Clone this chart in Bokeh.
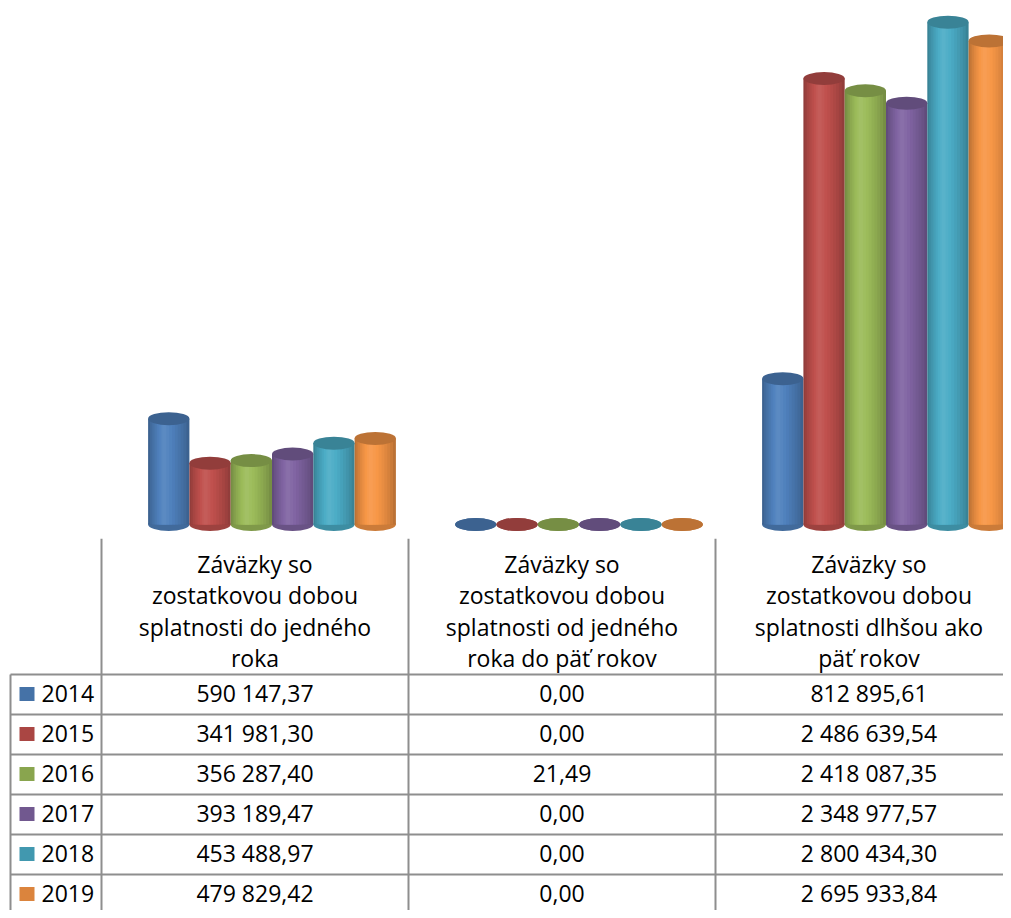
from bokeh.plotting import figure
from bokeh.models import Range1d
from bokeh.layouts import column
from bokeh.embed import file_html
from bokeh.resources import INLINE
from bokeh.core.properties import value

# ---------------- data ----------------
years = ["2014", "2015", "2016", "2017", "2018", "2019"]
categories = [
    "Záväzky so\nzostatkovou dobou\nsplatnosti do jedného\nroka",
    "Záväzky so\nzostatkovou dobou\nsplatnosti od jedného\nroka do päť rokov",
    "Záväzky so\nzostatkovou dobou\nsplatnosti dlhšou ako\npäť rokov",
]
v2014 = [590147.37, 0.00, 812895.61]
v2015 = [341981.30, 0.00, 2486639.54]
v2016 = [356287.40, 21.49, 2418087.35]
v2017 = [393189.47, 0.00, 2348977.57]
v2018 = [453488.97, 0.00, 2800434.30]
v2019 = [479829.42, 0.00, 2695933.84]
series = [v2014, v2015, v2016, v2017, v2018, v2019]

bar_colors = ["#4F81BD", "#C0504D", "#9BBB59", "#8064A2", "#4BACC6", "#F79646"]
key_colors = ["#4572A7", "#AA4643", "#89A54E", "#71588F", "#4198AF", "#DB843D"]

# ---------------- layout constants ----------------
W = 1003
H_TOP = 538
H_TAB = 372
FONT = value("Open Sans")
FS = "23px"
GRID = "#8E8E8E"
TXT_SHIFT = 9.0       # compensation of text baseline placement

COL_LEFT = 101.0      # x of first category column boundary (px)
COL_W = 307.0         # category column width (px)
BASE_PX = 524.0       # y of value 0 (px from top)
PX_PER_UNIT = 1.7937e-4
DEPTH = 17.0 / COL_W  # 3-D shift of the bar groups
BW = 41.3 / COL_W     # bar width in category units
N_LAYERS = 9


def fmt(v):
    s = f"{v:,.2f}"
    return s.replace(",", " ").replace(".", ",")


def shade(hx, f):
    r, g, b = int(hx[1:3], 16), int(hx[3:5], 16), int(hx[5:7], 16)
    if f <= 1:
        c = [x * f for x in (r, g, b)]
    else:
        c = [x + (255 - x) * (f - 1) for x in (r, g, b)]
    return "#%02x%02x%02x" % tuple(max(0, min(255, int(round(x)))) for x in c)


# ---------------- chart (cylinders) ----------------
p = figure(
    width=W, height=H_TOP, output_backend="svg", toolbar_location=None,
    x_range=Range1d((0 - COL_LEFT) / COL_W, (W - COL_LEFT) / COL_W),
    y_range=Range1d((BASE_PX - H_TOP) / PX_PER_UNIT, BASE_PX / PX_PER_UNIT),
    min_border=0, outline_line_color=None, background_fill_color="white",
    border_fill_color="white",
)
p.axis.visible = False
p.grid.visible = False

bx, by, bc = [], [], []
lx, lw, ltop, lc = [], [], [], []
tx, ty, tc = [], [], []
T0 = 0.38  # highlight position across the cylinder
for i in range(len(categories)):
    for j, ser in enumerate(series):
        xc = i + 0.5 + DEPTH + (j - (len(series) - 1) / 2) * BW
        val = ser[i]
        bx.append(xc); by.append(0.0); bc.append(shade(bar_colors[j], 0.82))
        for m in range(N_LAYERS):
            frac = 1.0 - 0.9 * m / (N_LAYERS - 1)
            left_t = T0 - T0 * frac
            right_t = T0 + (1 - T0) * frac
            lx.append(xc + ((left_t + right_t) / 2 - 0.5) * BW)
            lw.append((right_t - left_t) * BW)
            ltop.append(val)
            f = 0.76 + (1.07 - 0.76) * (m / (N_LAYERS - 1)) ** 0.8
            lc.append(shade(bar_colors[j], f))
        tx.append(xc); ty.append(val); tc.append(shade(bar_colors[j], 0.76))

p.ellipse(x=bx, y=by, width=BW, height=13, height_units="screen",
          fill_color=bc, line_color=None)
p.vbar(x=lx, top=ltop, bottom=0, width=lw, fill_color=lc, line_color=None)
p.ellipse(x=tx, y=ty, width=BW, height=13, height_units="screen",
          fill_color=tc, line_color=None)

# ---------------- data table ----------------
q = figure(
    width=W, height=H_TAB, output_backend="svg", toolbar_location=None,
    x_range=Range1d(0, W), y_range=Range1d(H_TOP + H_TAB, H_TOP),
    min_border=0, outline_line_color=None, background_fill_color="white",
    border_fill_color="white",
)
q.axis.visible = False
q.grid.visible = False

ROW_TOP = 674.0
ROW_H = 40.0
LEFT = 10.0
BOTTOM = H_TOP + H_TAB + 20

# vertical lines
vx = [COL_LEFT + COL_W * i for i in range(len(categories))]
q.segment(x0=vx, y0=[H_TOP] * len(vx), x1=vx, y1=[BOTTOM] * len(vx),
          line_color=GRID, line_width=2)
q.segment(x0=[LEFT], y0=[ROW_TOP], x1=[LEFT], y1=[BOTTOM], line_color=GRID, line_width=2)
# horizontal lines
hy = [ROW_TOP + ROW_H * k for k in range(len(years) + 1)]
q.segment(x0=[LEFT] * len(hy), y0=hy, x1=[W + 20] * len(hy), y1=hy,
          line_color=GRID, line_width=2)

# header texts
hx, hyy, ht = [], [], []
for i, cat in enumerate(categories):
    for l, line in enumerate(cat.split("\n")):
        hx.append(COL_LEFT + COL_W * (i + 0.5))
        hyy.append(572.0 + 31.5 * l - TXT_SHIFT)
        ht.append(line)
q.text(x=hx, y=hyy, text=ht, text_align="center", text_baseline="alphabetic",
       text_font=FONT, text_font_size=FS, text_color="#000000")

# rows
kx, ky = [], []
yx, yy, yt = [], [], []
nx, ny, nt = [], [], []
for r, yr in enumerate(years):
    top = ROW_TOP + ROW_H * r
    kx.append(26.5); ky.append(top + 19.5)
    yx.append(41.0); yy.append(top + 27.5 - TXT_SHIFT); yt.append(yr)
    for i in range(len(categories)):
        nx.append(COL_LEFT + COL_W * (i + 0.5)); ny.append(top + 27.5 - TXT_SHIFT)
        nt.append(fmt(series[r][i]))

q.rect(x=kx, y=ky, width=15, height=14, fill_color=key_colors, line_color=None)
q.text(x=yx, y=yy, text=yt, text_align="left", text_baseline="alphabetic",
       text_font=FONT, text_font_size=FS, text_color="#000000")
q.text(x=nx, y=ny, text=nt, text_align="center", text_baseline="alphabetic",
       text_font=FONT, text_font_size=FS, text_color="#000000")

layout = column(p, q, spacing=0)
open("out.html", "w").write(file_html(layout, INLINE))
